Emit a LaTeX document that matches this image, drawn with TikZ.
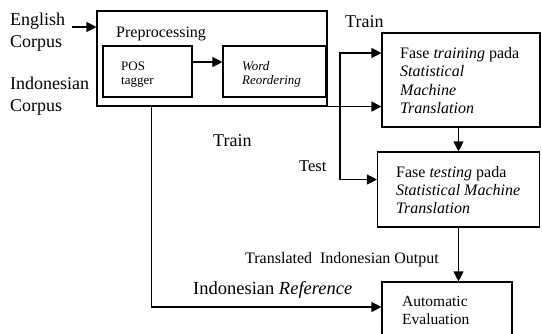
\documentclass[tikz,border=0pt]{standalone}
\usepackage{fontspec}
\setmainfont{Liberation Serif}
\usetikzlibrary{arrows.meta}
\newcommand{\fs}[2]{\fontsize{#1}{#2}\selectfont}
\begin{document}
\begin{tikzpicture}[x=1pt,y=-1pt,
  box/.style={draw,line width=1.1pt,rectangle,inner sep=0pt},
  txt/.style={inner sep=0pt,align=left},
  arr/.style={line width=1.1pt,-{Triangle[length=10pt,width=10pt]}},
  ln/.style={line width=1.1pt}]
\useasboundingbox (0,0) rectangle (542,333);

% process boxes
\node[box,minimum width=230pt,minimum height=95pt] (pre) at (212,58.5) {};
\node[box,minimum width=89pt,minimum height=51pt] (pos) at (147.5,71.5) {};
\node[box,minimum width=103pt,minimum height=51pt] (word) at (274.5,71.5) {};
\node[box,minimum width=158pt,minimum height=94pt] (train) at (461,80) {};
\node[box,minimum width=162pt,minimum height=75pt] (test) at (458.5,189.5) {};
\node[box,minimum width=130pt,minimum height=58pt] (eval) at (447,311) {};

% texts
\node[txt,anchor=north west,font=\fs{18}{22}] (eng) at (10,12.6) {English\\Corpus};
\node[txt,anchor=north west,font=\fs{18}{22}] (ind) at (10,76.7) {Indonesian\\Corpus};
\node[txt,anchor=base west,font=\fs{16}{19}] (pretxt) at (116,37) {Preprocessing};
\node[txt,anchor=north west,font=\fs{13}{14}] (postxt) at (121,61.5) {POS\\tagger};
\node[txt,anchor=north west,font=\fs{13}{14}\itshape] (wordtxt) at (242,61.3) {Word\\Reordering};
\node[txt,anchor=north west,font=\fs{16}{18.5}] (traintxt) at (400,47)
  {Fase \textit{training} pada\\\textit{Statistical}\\\textit{Machine}\\\textit{Translation}};
\node[txt,anchor=north west,font=\fs{16}{18}] (testtxt) at (396,166)
  {Fase \textit{testing} pada\\\textit{Statistical Machine}\\\textit{Translation}};
\node[txt,anchor=north west,font=\fs{15.5}{18}] (evaltxt) at (402,296.4) {Automatic\\Evaluation};
\node[txt,anchor=base west,font=\fs{18}{22}] (lbltrainA) at (345,27) {Train};
\node[txt,anchor=base west,font=\fs{18}{22}] (lbltrainB) at (213,146) {Train};
\node[txt,anchor=base west,font=\fs{16.5}{20}] (lbltest) at (299,171) {Test};
\node[txt,anchor=base west,font=\fs{16}{19}] (lblout) at (245,263) {Translated\ \ Indonesian Output};
\node[txt,anchor=base west,font=\fs{18.5}{22}] (lblref) at (193,294) {Indonesian \textit{Reference}};

% connectors
\coordinate (engout) at (72,27);
\draw[arr] (engout) -- (engout -| pre.west);
\draw[arr] ([yshift=9.5pt]pos.east) -- ([yshift=9.5pt]word.west);
\draw[arr] (pre.south east) -- (pre.south east -| train.west);
\coordinate (tt) at (340,53);
\coordinate (tb) at (340,179.5);
\draw[arr] (tb) -- (tt) -- (tt -| train.west);
\draw[arr] (tt) -- (tb) -- (tb -| test.west);
\draw[arr] (train.south -| test.north) -- (test.north);
\draw[arr] (test.south) -- (test.south |- eval.north);
\coordinate (refdown) at ([xshift=55pt]pre.south west);
\coordinate (refin) at (eval.west |- 0,307);
\draw[arr] (refdown) |- (refin);
\end{tikzpicture}
\end{document}
